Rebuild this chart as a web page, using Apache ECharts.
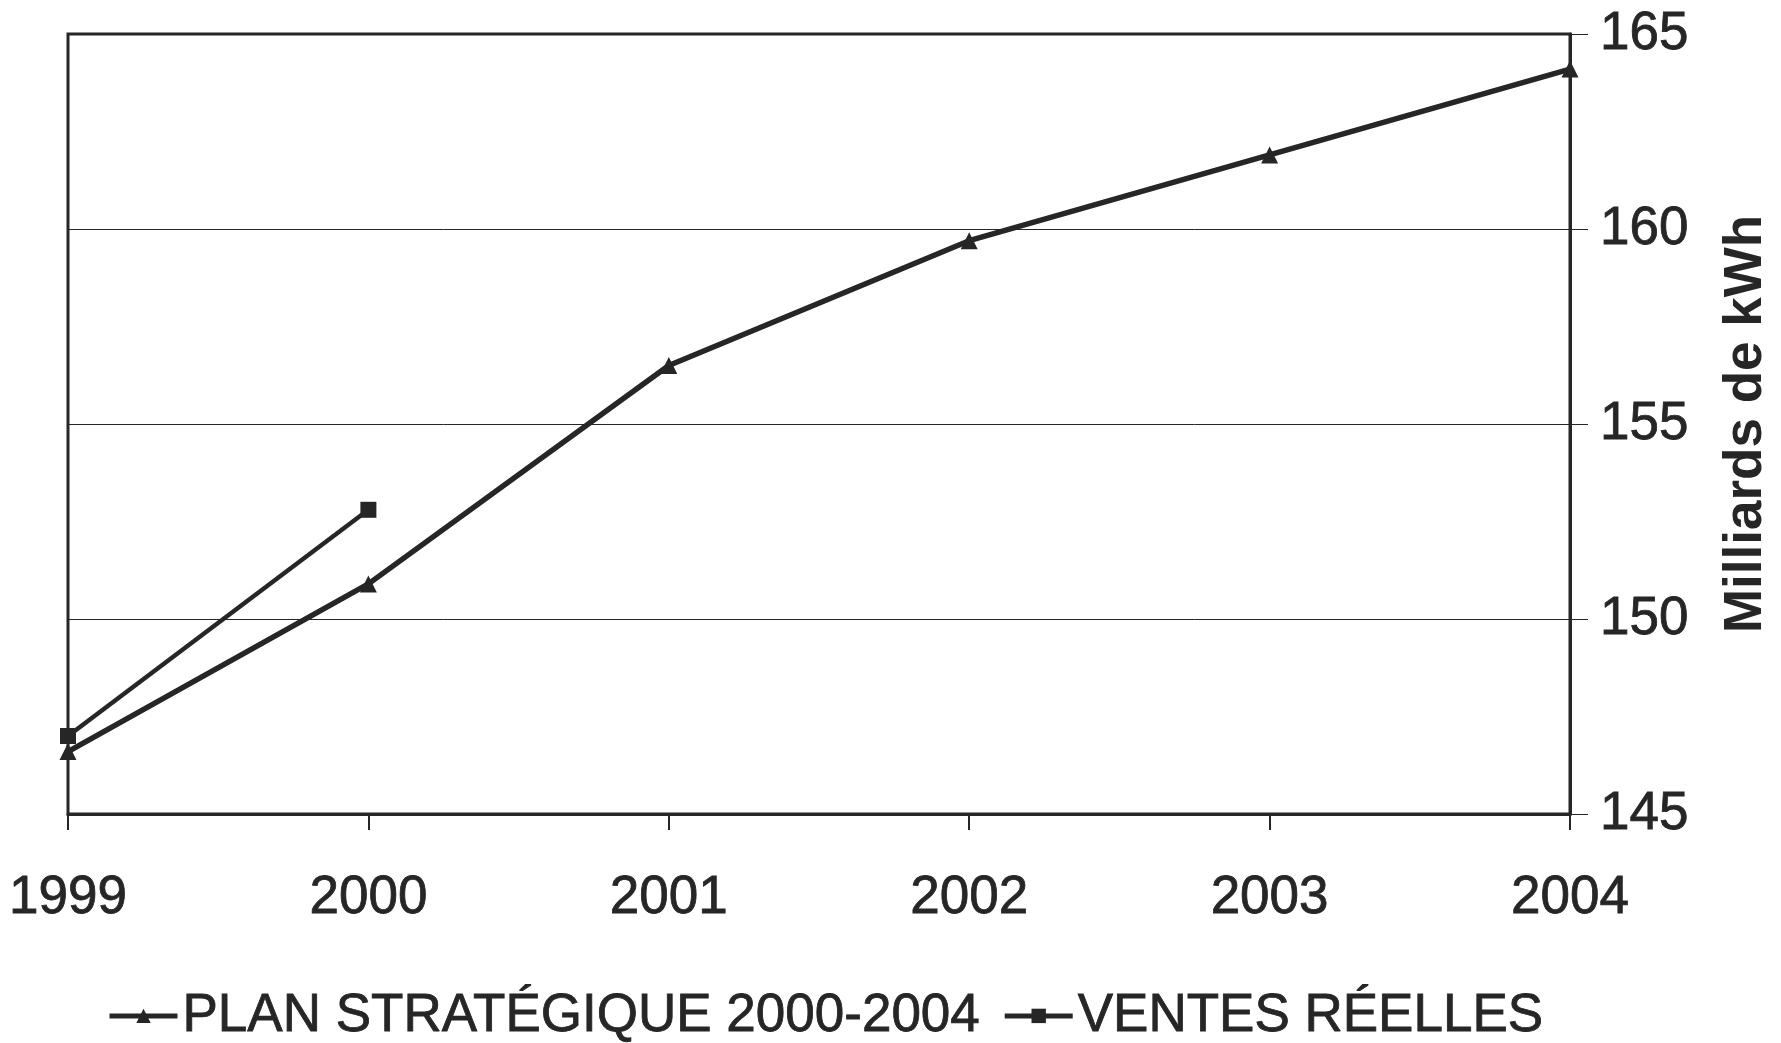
<!DOCTYPE html>
<html lang="fr">
<head>
	<meta charset="utf-8">
	<title>Plan stratégique 2000-2004</title>
	<script src="https://cdn.jsdelivr.net/npm/echarts@6/dist/echarts.min.js"></script>
	<style>
		html, body { margin: 0; padding: 0; background: #fff; }
		#main { width: 1781px; height: 1043px; }
	</style>
</head>
<body>
<div id="main"></div>
<script>
	// années (axe horizontal)
	const years = ['1999', '2000', '2001', '2002', '2003', '2004'];
	// milliards de kWh
	const planValues = [146.6, 150.9, 156.5, 159.7, 161.9, 164.1];
	const ventesValues = [147.0, 152.8, null, null, null, null];
	const seriesNames = ['PLAN STRATÉGIQUE 2000-2004', 'VENTES RÉELLES'];

	const ink = '#262626';
	const font = 'Liberation Sans';
	// texte un peu plus gras, comme sur le scan
	const heavy = { textBorderColor: ink, textBorderWidth: 0.8 };

	const chart = echarts.init(document.getElementById('main'));

	const option = {
		backgroundColor: '#ffffff',
		animation: false,
		textStyle: { fontFamily: font, color: ink },
		grid: {
			left: 68,
			right: 204,
			top: 34,
			bottom: 229,
			show: true,
			borderColor: ink,
			borderWidth: 3
		},
		legend: {
			left: 102,
			top: 984,
			itemWidth: 68,
			itemHeight: 18,
			itemGap: 22,
			lineStyle: { width: 5 },
			textStyle: Object.assign({ fontFamily: font, fontSize: 53, color: ink }, heavy),
			data: seriesNames
		},
		xAxis: {
			type: 'category',
			data: years,
			boundaryGap: false,
			axisLine: { show: true, lineStyle: { color: ink, width: 3 } },
			axisTick: { show: true, length: 16, lineStyle: { color: ink, width: 2 } },
			axisLabel: Object.assign({ fontSize: 53, color: ink, margin: 58, fontFamily: font }, heavy),
			splitLine: { show: false }
		},
		yAxis: {
			type: 'value',
			position: 'right',
			min: 145,
			max: 165,
			interval: 5,
			name: 'Milliards de kWh',
			nameLocation: 'middle',
			nameRotate: 90,
			nameGap: 150,
			nameTextStyle: { fontSize: 53, fontWeight: 'bold', color: ink, fontFamily: font },
			axisLine: { show: true, lineStyle: { color: ink, width: 3 } },
			axisTick: { show: true, inside: false, length: 18, lineStyle: { color: ink, width: 1 } },
			axisLabel: Object.assign({ fontSize: 53, color: ink, margin: 30, fontFamily: font }, heavy),
			splitLine: { show: true, lineStyle: { color: ink, width: 1 } }
		},
		series: [
			{
				name: seriesNames[0],
				type: 'line',
				data: planValues,
				symbol: 'triangle',
				symbolSize: 17,
				itemStyle: { color: ink },
				lineStyle: { color: ink, width: 5.5 }
			},
			{
				name: seriesNames[1],
				type: 'line',
				data: ventesValues,
				symbol: 'rect',
				symbolSize: 16,
				itemStyle: { color: ink },
				lineStyle: { color: ink, width: 4.5 }
			}
		]
	};

	chart.setOption(option);
</script>
</body>
</html>
